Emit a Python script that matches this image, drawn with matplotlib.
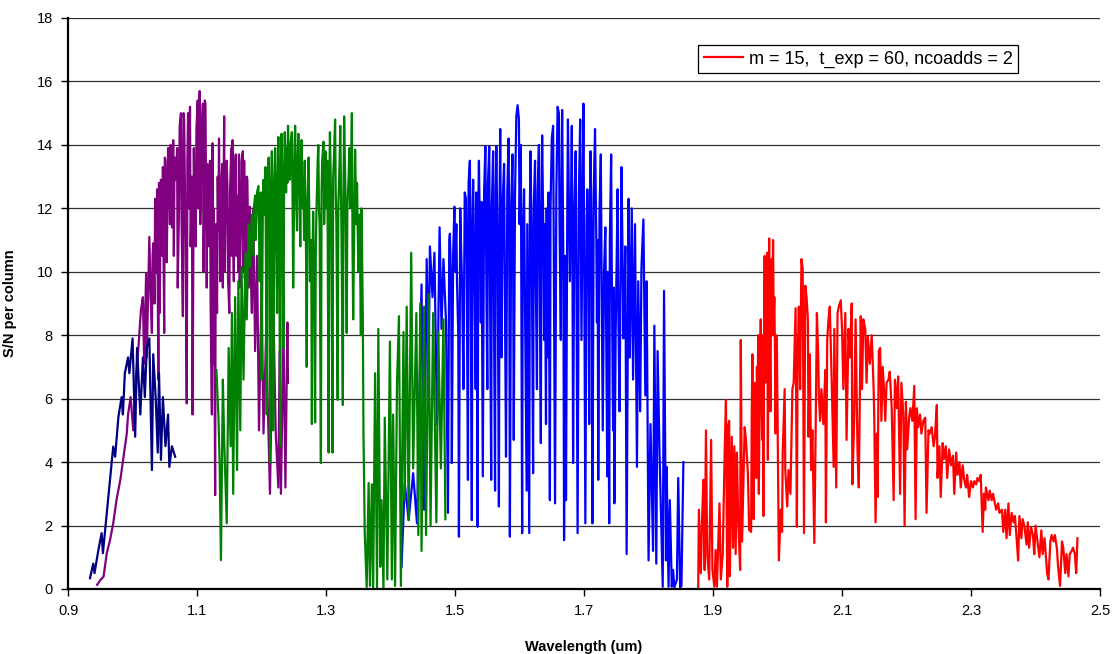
# S/N per column vs wavelength, five spectral orders

import numpy as np
import matplotlib.pyplot as plt

plt.rcParams['font.family'] = ['Liberation Sans', 'DejaVu Sans']

# (wavelength um, S/N)
navy_pts = [(0.934, 0.34), (0.939, 0.8), (0.941, 0.5), (0.947, 1.23), (0.952, 1.76), (0.954, 1.13),
            (0.960, 2.39), (0.965, 3.44), (0.970, 4.49), (0.973, 4.17), (0.978, 5.42), (0.983, 6.05),
            (0.985, 5.5), (0.988, 6.8), (0.993, 7.3), (0.995, 6.8), (1.000, 7.9), (1.004, 4.8),
            (1.007, 7.6), (1.012, 5.5), (1.016, 7.3), (1.019, 6.05), (1.022, 7.6), (1.026, 7.9),
            (1.030, 3.75), (1.032, 7.4), (1.036, 5.95), (1.039, 4.3), (1.041, 6.8), (1.044, 4.07),
            (1.047, 6.05), (1.051, 4.5), (1.055, 5.5), (1.057, 3.85), (1.061, 4.5), (1.066, 4.17)]

purple_pts = [(0.945, 0.13), (0.950, 0.28), (0.955, 0.39), (0.960, 1.13), (0.965, 1.54), (0.970, 2.07),
              (0.975, 2.8), (0.981, 3.44), (0.986, 4.17), (0.991, 4.9), (0.993, 5.5), (0.997, 6.05),
              (1.001, 5.0), (1.005, 6.6), (1.009, 7.6), (1.013, 8.8), (1.016, 9.2), (1.018, 7.1),
              (1.021, 9.96), (1.022, 7.3), (1.026, 11.1), (1.028, 9.2), (1.030, 8.07), (1.031, 10.5),
              (1.032, 10.9), (1.034, 9.0), (1.035, 12.3), (1.037, 9.96), (1.038, 12.6), (1.040, 6.6),
              (1.041, 12.8), (1.042, 8.7), (1.044, 12.9), (1.046, 10.5), (1.047, 13.3), (1.049, 8.07),
              (1.050, 13.6), (1.051, 13.5), (1.052, 11.0), (1.053, 10.3), (1.055, 13.9), (1.056, 13.7),
              (1.058, 11.5), (1.059, 14.0), (1.061, 11.4), (1.063, 14.15), (1.064, 10.5), (1.065, 13.6),
              (1.067, 12.9), (1.069, 13.9), (1.070, 9.5), (1.072, 12.05), (1.073, 14.6), (1.075, 15.0),
              (1.076, 11.5), (1.078, 8.6), (1.079, 15.0), (1.080, 14.8), (1.082, 11.0), (1.084, 5.85),
              (1.085, 13.5), (1.086, 15.0), (1.088, 12.0), (1.089, 15.2), (1.090, 10.8), (1.092, 13.0),
              (1.093, 5.5), (1.095, 13.9), (1.096, 11.8), (1.098, 10.8), (1.099, 14.5), (1.101, 15.4),
              (1.102, 12.0), (1.104, 15.7), (1.105, 11.5), (1.106, 12.9), (1.108, 14.8), (1.109, 15.3),
              (1.110, 10.0), (1.111, 11.8), (1.112, 15.4), (1.113, 15.3), (1.115, 9.5), (1.116, 13.4),
              (1.118, 12.5), (1.119, 10.8), (1.120, 13.5), (1.121, 9.0), (1.123, 5.5), (1.124, 14.05),
              (1.125, 7.1), (1.126, 12.0), (1.128, 2.96), (1.129, 11.5), (1.131, 8.7), (1.132, 13.0),
              (1.133, 11.3), (1.134, 14.2), (1.136, 9.7), (1.137, 12.5), (1.139, 13.4), (1.140, 9.5),
              (1.142, 14.9), (1.143, 10.0), (1.144, 11.8), (1.146, 13.5), (1.147, 12.7), (1.148, 9.8),
              (1.150, 8.7), (1.151, 12.5), (1.153, 13.9), (1.154, 10.5), (1.155, 14.15), (1.156, 11.0),
              (1.157, 9.7), (1.158, 13.0), (1.160, 13.7), (1.161, 10.5), (1.163, 12.4), (1.164, 10.0),
              (1.165, 13.7), (1.166, 9.5), (1.168, 11.3), (1.169, 13.5), (1.171, 13.8), (1.172, 10.0),
              (1.173, 13.5), (1.174, 9.8), (1.176, 10.8), (1.177, 13.0), (1.178, 12.9), (1.180, 9.5),
              (1.182, 12.05), (1.183, 10.0), (1.185, 8.7), (1.187, 12.0), (1.190, 7.5), (1.193, 10.5),
              (1.196, 5.0), (1.200, 9.5), (1.203, 4.9), (1.207, 8.0), (1.213, 3.0), (1.218, 9.1),
              (1.222, 4.9), (1.226, 3.2), (1.228, 7.5), (1.230, 3.0), (1.234, 8.07), (1.237, 3.2),
              (1.240, 8.4), (1.241, 6.5)]

green_pts = [(1.130, 6.9), (1.133, 5.5), (1.135, 3.97), (1.137, 0.91), (1.140, 6.6), (1.142, 4.7),
             (1.146, 2.07), (1.149, 7.6), (1.152, 4.5), (1.154, 8.7), (1.156, 3.0), (1.159, 9.2),
             (1.162, 3.75), (1.164, 9.7), (1.167, 5.0), (1.169, 10.15), (1.172, 6.6), (1.175, 10.6),
             (1.177, 8.5), (1.180, 11.5), (1.182, 10.15), (1.185, 11.8), (1.187, 10.5), (1.188, 12.0),
             (1.190, 12.4), (1.191, 11.0), (1.193, 12.5), (1.195, 12.7), (1.196, 11.5), (1.197, 9.7),
             (1.199, 12.5), (1.200, 6.6), (1.202, 12.0), (1.203, 12.9), (1.205, 11.8), (1.206, 13.3),
             (1.208, 5.5), (1.209, 12.5), (1.211, 13.6), (1.212, 12.0), (1.213, 4.0), (1.215, 13.0),
             (1.216, 13.8), (1.217, 12.2), (1.218, 5.0), (1.220, 12.8), (1.221, 13.9), (1.222, 12.5),
             (1.224, 8.7), (1.225, 13.0), (1.226, 14.25), (1.227, 12.5), (1.229, 4.5), (1.230, 13.5),
             (1.231, 14.35), (1.232, 12.8), (1.234, 7.6), (1.235, 13.2), (1.236, 14.4), (1.238, 12.5),
             (1.239, 13.9), (1.240, 12.8), (1.241, 14.6), (1.243, 13.0), (1.244, 12.9), (1.245, 14.0),
             (1.247, 14.4), (1.248, 12.5), (1.249, 9.5), (1.251, 13.5), (1.252, 14.6), (1.254, 12.0),
             (1.255, 11.3), (1.256, 13.5), (1.257, 14.35), (1.259, 12.5), (1.260, 10.8), (1.261, 13.0),
             (1.262, 14.15), (1.264, 12.0), (1.265, 12.4), (1.266, 11.0), (1.267, 13.5), (1.269, 10.5),
             (1.270, 7.0), (1.271, 12.0), (1.273, 13.6), (1.274, 11.5), (1.275, 9.7), (1.277, 11.0),
             (1.278, 5.2), (1.279, 10.5), (1.280, 11.9), (1.282, 9.0), (1.283, 5.25), (1.284, 10.5),
             (1.285, 11.8), (1.287, 13.5), (1.288, 14.0), (1.289, 12.0), (1.290, 11.5), (1.292, 3.97),
             (1.293, 12.5), (1.294, 13.5), (1.296, 14.1), (1.297, 11.5), (1.299, 13.8), (1.300, 12.0),
             (1.302, 13.5), (1.304, 4.3), (1.305, 12.5), (1.306, 14.4), (1.308, 12.0), (1.310, 4.3),
             (1.311, 13.0), (1.312, 13.5), (1.314, 14.8), (1.315, 12.5), (1.316, 11.5), (1.318, 5.96),
             (1.319, 12.0), (1.321, 13.5), (1.322, 14.6), (1.324, 11.0), (1.326, 5.8), (1.327, 12.5),
             (1.328, 14.9), (1.330, 12.5), (1.332, 8.07), (1.333, 12.0), (1.335, 13.0), (1.336, 13.9),
             (1.338, 12.0), (1.340, 15.0), (1.341, 11.0), (1.342, 8.5), (1.344, 12.0), (1.345, 13.85),
             (1.347, 11.5), (1.348, 12.8), (1.350, 10.0), (1.352, 11.8), (1.354, 8.0), (1.355, 12.0),
             (1.357, 8.5), (1.358, 4.9), (1.360, 1.76), (1.363, 0.06), (1.366, 3.34), (1.368, 0.1),
             (1.371, 3.3), (1.373, 0.0), (1.376, 6.8), (1.379, 0.0), (1.381, 8.2), (1.384, 0.7),
             (1.386, 2.8), (1.389, 0.0), (1.391, 5.4), (1.395, 0.3), (1.399, 7.8), (1.402, 0.3),
             (1.404, 5.5), (1.407, 0.1), (1.410, 6.5), (1.413, 8.6), (1.416, 0.1), (1.420, 8.1),
             (1.422, 2.8), (1.425, 8.9), (1.428, 2.17), (1.432, 10.6), (1.435, 3.8), (1.440, 8.7),
             (1.443, 1.7), (1.446, 9.0), (1.448, 1.2), (1.452, 8.9), (1.455, 1.7), (1.459, 9.3),
             (1.462, 2.0), (1.466, 8.7), (1.471, 2.1), (1.474, 8.1), (1.478, 3.8), (1.482, 8.5),
             (1.485, 2.2)]

blue_pts = [(1.417, 0.7), (1.422, 3.34), (1.428, 2.17), (1.435, 3.65), (1.441, 2.07), (1.448, 9.6),
            (1.452, 2.5), (1.456, 10.4), (1.459, 6.8), (1.461, 10.8), (1.465, 9.2), (1.468, 10.6),
            (1.472, 5.2), (1.476, 11.4), (1.479, 8.2), (1.482, 10.4), (1.486, 8.4), (1.489, 2.4),
            (1.491, 11.0), (1.492, 11.2), (1.494, 9.5), (1.495, 3.97), (1.497, 10.5), (1.499, 12.05),
            (1.500, 10.0), (1.502, 11.5), (1.503, 9.7), (1.505, 8.0), (1.506, 1.65), (1.508, 12.0),
            (1.509, 11.05), (1.511, 9.5), (1.513, 6.3), (1.515, 12.5), (1.517, 12.3), (1.518, 10.2),
            (1.520, 3.44), (1.521, 12.8), (1.523, 13.5), (1.524, 10.5), (1.526, 2.17), (1.527, 11.5),
            (1.528, 12.9), (1.530, 10.0), (1.532, 6.3), (1.533, 12.5), (1.535, 1.96), (1.536, 12.0),
            (1.537, 13.5), (1.539, 10.5), (1.540, 8.4), (1.541, 12.2), (1.543, 3.55), (1.545, 12.5),
            (1.547, 13.95), (1.548, 11.0), (1.550, 6.3), (1.551, 12.8), (1.553, 13.95), (1.554, 10.2),
            (1.556, 3.44), (1.557, 12.0), (1.559, 13.8), (1.560, 9.8), (1.562, 3.1), (1.563, 12.5),
            (1.564, 13.95), (1.566, 10.5), (1.568, 2.6), (1.569, 12.0), (1.570, 14.5), (1.571, 11.0),
            (1.572, 7.3), (1.574, 12.3), (1.576, 13.4), (1.577, 10.0), (1.579, 4.17), (1.581, 12.5),
            (1.583, 14.2), (1.584, 11.0), (1.585, 1.65), (1.587, 12.0), (1.589, 13.7), (1.590, 10.5),
            (1.591, 4.7), (1.593, 12.5), (1.595, 14.9), (1.597, 15.25), (1.599, 14.8), (1.600, 11.5),
            (1.602, 14.0), (1.604, 1.76), (1.605, 11.0), (1.607, 12.6), (1.608, 10.0), (1.611, 3.1),
            (1.612, 11.5), (1.615, 1.76), (1.616, 12.0), (1.617, 13.8), (1.619, 10.5), (1.621, 3.65),
            (1.622, 12.0), (1.624, 13.5), (1.625, 10.0), (1.627, 6.3), (1.628, 12.5), (1.630, 14.0),
            (1.631, 10.5), (1.633, 4.6), (1.634, 12.0), (1.635, 14.3), (1.637, 11.0), (1.638, 7.85),
            (1.639, 11.5), (1.641, 5.2), (1.642, 12.0), (1.644, 7.3), (1.645, 12.5), (1.647, 2.8),
            (1.648, 12.0), (1.650, 14.2), (1.652, 14.6), (1.653, 11.0), (1.655, 2.7), (1.657, 12.5),
            (1.659, 15.2), (1.661, 15.0), (1.662, 11.5), (1.664, 7.85), (1.665, 12.5), (1.666, 15.1),
            (1.668, 10.0), (1.669, 1.54), (1.671, 10.5), (1.672, 2.8), (1.674, 12.0), (1.675, 14.8),
            (1.677, 11.5), (1.678, 9.7), (1.680, 12.5), (1.681, 14.6), (1.682, 10.5), (1.683, 3.97),
            (1.685, 12.0), (1.687, 13.8), (1.688, 10.5), (1.690, 1.76), (1.692, 12.5), (1.694, 14.8),
            (1.695, 11.0), (1.696, 7.85), (1.698, 13.0), (1.699, 15.3), (1.700, 11.5), (1.702, 2.07),
            (1.704, 11.5), (1.705, 12.6), (1.707, 10.0), (1.708, 5.2), (1.709, 12.0), (1.710, 13.8),
            (1.712, 10.5), (1.713, 2.07), (1.715, 12.5), (1.717, 14.5), (1.719, 11.0), (1.720, 8.4),
            (1.721, 11.0), (1.722, 3.44), (1.724, 12.0), (1.726, 13.7), (1.727, 10.5), (1.729, 5.0),
            (1.731, 10.0), (1.733, 11.4), (1.734, 9.0), (1.736, 3.55), (1.737, 10.0), (1.739, 2.07),
            (1.740, 11.0), (1.742, 13.7), (1.743, 10.0), (1.745, 5.0), (1.746, 9.5), (1.747, 2.7),
            (1.749, 8.0), (1.750, 9.6), (1.752, 12.6), (1.753, 9.0), (1.755, 5.6), (1.757, 10.5),
            (1.758, 13.3), (1.760, 10.0), (1.761, 7.9), (1.763, 9.5), (1.764, 10.8), (1.766, 1.1),
            (1.769, 12.3), (1.771, 7.3), (1.774, 12.0), (1.776, 6.6), (1.779, 11.5), (1.782, 3.85),
            (1.784, 9.7), (1.787, 5.6), (1.789, 10.15), (1.792, 11.65), (1.795, 6.1), (1.797, 9.7),
            (1.800, 0.9), (1.803, 5.2), (1.807, 1.2), (1.809, 8.3), (1.812, 0.8), (1.814, 7.5),
            (1.817, 4.3), (1.819, 2.6), (1.822, 0.07), (1.824, 9.4), (1.827, 0.9), (1.828, 3.85),
            (1.831, 0.07), (1.833, 2.8), (1.836, 0.07), (1.838, 0.6), (1.840, 0.05), (1.844, 0.3),
            (1.846, 3.5), (1.849, 0.05), (1.851, 0.1), (1.854, 4.0)]

red_pts = [(1.877, 0.07), (1.878, 2.5), (1.881, 0.5), (1.883, 2.2), (1.885, 3.44), (1.887, 0.6),
           (1.889, 5.0), (1.891, 1.1), (1.894, 0.3), (1.897, 4.7), (1.899, 0.6), (1.902, 0.07),
           (1.904, 1.23), (1.906, 0.07), (1.910, 2.7), (1.912, 0.3), (1.915, 1.1), (1.918, 4.3),
           (1.920, 5.96), (1.922, 0.07), (1.923, 5.1), (1.925, 5.3), (1.926, 0.4), (1.929, 4.8),
           (1.931, 1.3), (1.933, 4.5), (1.935, 1.1), (1.937, 4.3), (1.939, 2.2), (1.942, 0.6),
           (1.943, 7.85), (1.945, 1.5), (1.949, 5.1), (1.951, 4.7), (1.954, 3.65), (1.956, 1.86),
           (1.959, 1.8), (1.960, 5.5), (1.961, 7.4), (1.962, 4.0), (1.963, 2.2), (1.964, 6.5),
           (1.966, 5.6), (1.967, 3.5), (1.968, 7.0), (1.969, 5.5), (1.970, 8.0), (1.971, 3.0),
           (1.972, 6.0), (1.974, 8.5), (1.975, 6.0), (1.976, 4.7), (1.977, 8.0), (1.978, 2.3),
           (1.979, 7.5), (1.980, 10.5), (1.981, 6.5), (1.982, 10.2), (1.983, 7.0), (1.984, 10.6),
           (1.985, 4.07), (1.986, 9.0), (1.987, 11.05), (1.988, 7.5), (1.989, 5.6), (1.990, 9.5),
           (1.991, 10.4), (1.992, 8.0), (1.993, 11.0), (1.994, 8.5), (1.995, 9.2), (1.996, 7.5),
           (1.997, 4.9), (1.998, 8.0), (1.999, 7.75), (2.002, 0.9), (2.005, 2.5), (2.007, 1.8),
           (2.008, 4.3), (2.011, 6.3), (2.012, 3.75), (2.015, 2.6), (2.017, 3.75), (2.020, 3.0),
           (2.023, 6.3), (2.025, 6.5), (2.028, 8.85), (2.030, 1.96), (2.031, 7.1), (2.033, 8.9),
           (2.035, 6.3), (2.037, 10.4), (2.039, 10.1), (2.041, 1.76), (2.043, 9.56), (2.045, 9.2),
           (2.047, 8.5), (2.048, 4.8), (2.050, 7.4), (2.052, 3.75), (2.054, 5.0), (2.057, 1.45),
           (2.059, 4.9), (2.061, 8.7), (2.063, 7.4), (2.064, 6.1), (2.066, 5.3), (2.068, 6.3),
           (2.071, 5.2), (2.074, 6.9), (2.075, 2.1), (2.077, 7.85), (2.079, 8.5), (2.081, 8.9),
           (2.084, 6.5), (2.087, 3.85), (2.088, 8.2), (2.091, 3.2), (2.093, 8.7), (2.095, 8.9),
           (2.098, 9.1), (2.100, 8.2), (2.102, 6.3), (2.105, 8.7), (2.107, 4.7), (2.110, 8.2),
           (2.112, 7.3), (2.115, 9.0), (2.116, 3.3), (2.119, 5.5), (2.121, 8.5), (2.124, 4.3),
           (2.126, 3.2), (2.129, 8.6), (2.131, 6.3), (2.133, 8.5), (2.136, 8.2), (2.138, 6.5),
           (2.140, 7.95), (2.143, 7.1), (2.146, 8.0), (2.149, 6.3), (2.150, 5.3), (2.152, 2.1),
           (2.154, 4.9), (2.155, 2.9), (2.157, 7.5), (2.159, 7.6), (2.161, 5.3), (2.163, 7.0),
           (2.165, 6.3), (2.167, 5.3), (2.169, 6.5), (2.172, 6.6), (2.174, 6.85), (2.177, 5.7),
           (2.180, 2.8), (2.182, 6.6), (2.185, 5.7), (2.187, 6.7), (2.190, 3.0), (2.192, 6.5),
           (2.195, 5.5), (2.197, 2.0), (2.199, 5.9), (2.201, 4.4), (2.204, 5.4), (2.206, 5.7),
           (2.209, 5.3), (2.212, 6.4), (2.214, 2.2), (2.216, 5.7), (2.218, 5.1), (2.221, 5.5),
           (2.223, 4.9), (2.226, 5.3), (2.229, 5.4), (2.231, 2.4), (2.234, 5.0), (2.236, 4.9),
           (2.239, 5.1), (2.242, 4.5), (2.244, 4.8), (2.247, 5.8), (2.248, 3.5), (2.251, 4.5),
           (2.253, 2.9), (2.256, 4.6), (2.258, 4.1), (2.261, 4.5), (2.263, 3.5), (2.266, 4.4),
           (2.269, 3.9), (2.272, 4.2), (2.274, 3.0), (2.277, 4.3), (2.279, 3.6), (2.282, 4.0),
           (2.284, 3.2), (2.287, 3.9), (2.289, 3.5), (2.292, 3.2), (2.294, 3.6), (2.297, 2.9),
           (2.300, 3.4), (2.303, 3.2), (2.305, 3.4), (2.308, 3.3), (2.310, 3.5), (2.313, 3.4),
           (2.315, 3.6), (2.318, 1.8), (2.320, 3.0), (2.322, 2.5), (2.323, 3.2), (2.327, 2.8),
           (2.329, 3.1), (2.332, 2.8), (2.334, 3.0), (2.337, 2.7), (2.339, 2.5), (2.342, 2.7),
           (2.344, 2.4), (2.348, 2.5), (2.350, 1.8), (2.353, 2.5), (2.355, 1.6), (2.358, 2.7),
           (2.360, 1.7), (2.363, 2.4), (2.366, 2.1), (2.368, 2.3), (2.371, 1.5), (2.373, 0.9),
           (2.375, 2.3), (2.378, 1.6), (2.380, 2.2), (2.383, 1.95), (2.386, 1.4), (2.388, 2.1),
           (2.390, 1.3), (2.393, 1.95), (2.396, 1.7), (2.398, 1.1), (2.400, 2.0), (2.403, 1.5),
           (2.406, 1.0), (2.409, 1.85), (2.411, 1.1), (2.414, 1.6), (2.418, 0.5), (2.420, 0.3),
           (2.423, 1.5), (2.425, 1.7), (2.428, 1.5), (2.430, 1.7), (2.433, 1.3), (2.435, 0.7),
           (2.438, 0.1), (2.441, 1.5), (2.443, 1.3), (2.446, 0.5), (2.448, 1.1), (2.451, 0.4),
           (2.453, 1.1), (2.456, 1.2), (2.458, 1.3), (2.461, 1.1), (2.463, 0.5), (2.465, 1.6)]

x_ticks = [0.9, 1.1, 1.3, 1.5, 1.7, 1.9, 2.1, 2.3, 2.5]
y_ticks = [0, 2, 4, 6, 8, 10, 12, 14, 16, 18]
legend_label = 'm = 15,  t_exp = 60, ncoadds = 2'

fig = plt.figure(figsize=(11.16, 6.54), dpi=100)
ax = fig.add_axes([0.061, 0.0994, 0.9247, 0.8731])

# draw order: blue, purple, navy, green, red
for pts, col in [(blue_pts, '#0000ff'), (purple_pts, '#800080'), (navy_pts, '#000080'),
                 (green_pts, '#008000')]:
    xs, ys = zip(*pts)
    ax.plot(xs, ys, color=col, lw=1.6)
xs, ys = zip(*red_pts)
ax.plot(xs, ys, color='#ff0000', lw=1.6, label=legend_label)

ax.set_xlim(0.9, 2.5)
ax.set_ylim(0, 18)
ax.set_xticks(x_ticks)
ax.set_xticklabels([str(v) for v in x_ticks])
ax.set_yticks(y_ticks)
ax.yaxis.grid(True, color='#303030', lw=0.9)
ax.set_axisbelow(True)

for s in ['top', 'right']:
    ax.spines[s].set_visible(False)
for s in ['left', 'bottom']:
    ax.spines[s].set_linewidth(1.6)
    ax.spines[s].set_color('black')
ax.tick_params(direction='out', length=5, width=1, labelsize=10.5, pad=6)

ax.set_xlabel('Wavelength (um)', fontsize=10.5, fontweight='bold', labelpad=16)
ax.set_ylabel('S/N per column', fontsize=10.5, fontweight='bold', labelpad=14)

leg = ax.legend(loc='upper right', bbox_to_anchor=(0.9205, 0.9527), borderaxespad=0,
                fontsize=13, handlelength=2.2, handletextpad=0.3, fancybox=False,
                framealpha=1, edgecolor='black', borderpad=0.3)
leg.get_frame().set_linewidth(0.9)

fig.savefig('out.png', dpi=100)
